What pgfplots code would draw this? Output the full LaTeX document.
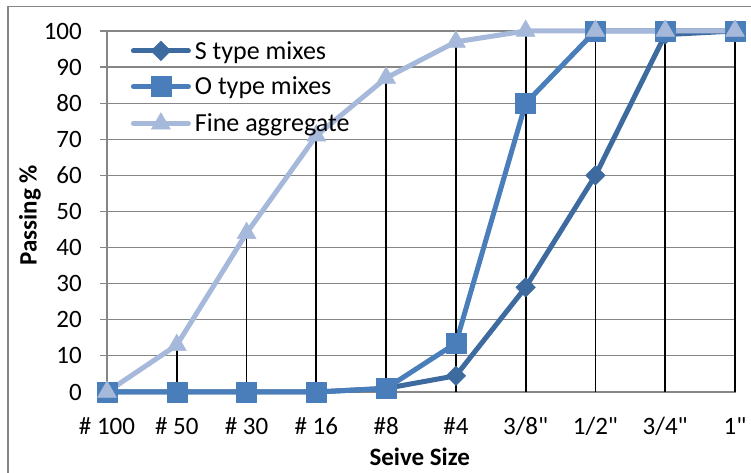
\documentclass[border=0pt]{standalone}
\usepackage{fontspec}
\setmainfont{Carlito}[Ligatures=TeXOff]
\usepackage{pgfplots}
\pgfplotsset{compat=1.18}
\definecolor{sType}{RGB}{61,106,159}
\definecolor{oType}{RGB}{74,126,187}
\definecolor{fineAgg}{RGB}{167,185,219}
\definecolor{gridGray}{RGB}{134,134,134}
\begin{document}
\begin{tikzpicture}
\useasboundingbox (-107pt,-81pt) rectangle (644pt,392pt);
% chart frame
\draw[gridGray, line width=1.2pt] (-99pt,-81pt) -- (-99pt,385.5pt) -- (644pt,385.5pt);
\begin{axis}[
  at={(0pt,0pt)}, anchor=south west,
  width=628pt, height=361pt, scale only axis,
  xmin=0, xmax=9, ymin=0, ymax=100,
  clip=false,
  xtick={0,...,9},
  xticklabels={\# 100, \# 50, \# 30, \# 16, \#8, \#4, 3/8", 1/2", 3/4", 1"},
  ytick={0,10,...,100},
  ymajorgrids,
  grid style={gridGray, line width=1.2pt},
  axis line style={gridGray, line width=1.2pt},
  xtick style={draw=none},
  ytick style={gridGray, line width=1.2pt},
  tick align=outside, major tick length=7pt,
  ytick pos=left, xtick pos=bottom,
  /pgf/number format/assume math mode=true,
  ticklabel style={font=\fontsize{25}{30}\selectfont},
  xticklabel style={anchor=base, yshift=-35pt},
  yticklabel style={anchor=east, inner sep=0pt, xshift=-18pt},
  xlabel={Seive Size},
  xlabel style={at={(axis description cs:0.498,-0.18)}, anchor=center, font=\bfseries\fontsize{25}{30}\selectfont},
  ylabel={Passing \%},
  ylabel style={at={(axis description cs:-0.1226,0.49)}, anchor=center, font=\bfseries\fontsize{25}{30}\selectfont},
  legend style={draw=none, fill=none, at={(0.033,0.978)}, anchor=north west,
    font=\fontsize{26}{31}\selectfont, row sep=16pt, column sep=4pt,
    nodes={inner sep=0pt}},
  legend cell align=left,
  legend image code/.code={\draw[#1, mark repeat=2, mark phase=2] plot coordinates {(0pt,0pt)(27.5pt,0pt)(55pt,0pt)};},
  every axis plot/.append style={line join=round, line cap=round},
]
\addplot[sType, line width=5pt, mark=square*,
  mark options={rotate=45, solid, line width=0.5pt, fill=sType, draw=sType}, mark size=6.9pt]
  table {
x y
0 0
1 0
2 0
3 0
4 1
5 4.5
6 29
7 60
8 99
9 100
};
\addlegendentry{S type mixes}
\addplot[oType, line width=5pt, mark=square*,
  mark options={solid, line width=0.5pt, fill=oType, draw=oType}, mark size=10pt]
  table {
x y
0 0
1 0
2 0
3 0
4 1
5 13.5
6 80
7 100
8 100
9 100
};
\addlegendentry{O type mixes}
\addplot[fineAgg, line width=5pt, mark=triangle*,
  mark options={solid, line width=0.5pt, fill=fineAgg, draw=fineAgg}, mark size=11pt]
  table {
x y
0 0
1 13
2 44
3 71
4 87
5 97
6 100
7 100
8 100
9 100
};
\addlegendentry{Fine aggregate}
% drop lines from the highest series down to the axis
\addplot[ycomb, black, line width=1.7pt, no marks, line cap=butt, forget plot]
  table {
x y
0 0
1 13
2 44
3 71
4 87
5 97
6 100
7 100
8 100
9 100
};
\end{axis}
\end{tikzpicture}
\end{document}
